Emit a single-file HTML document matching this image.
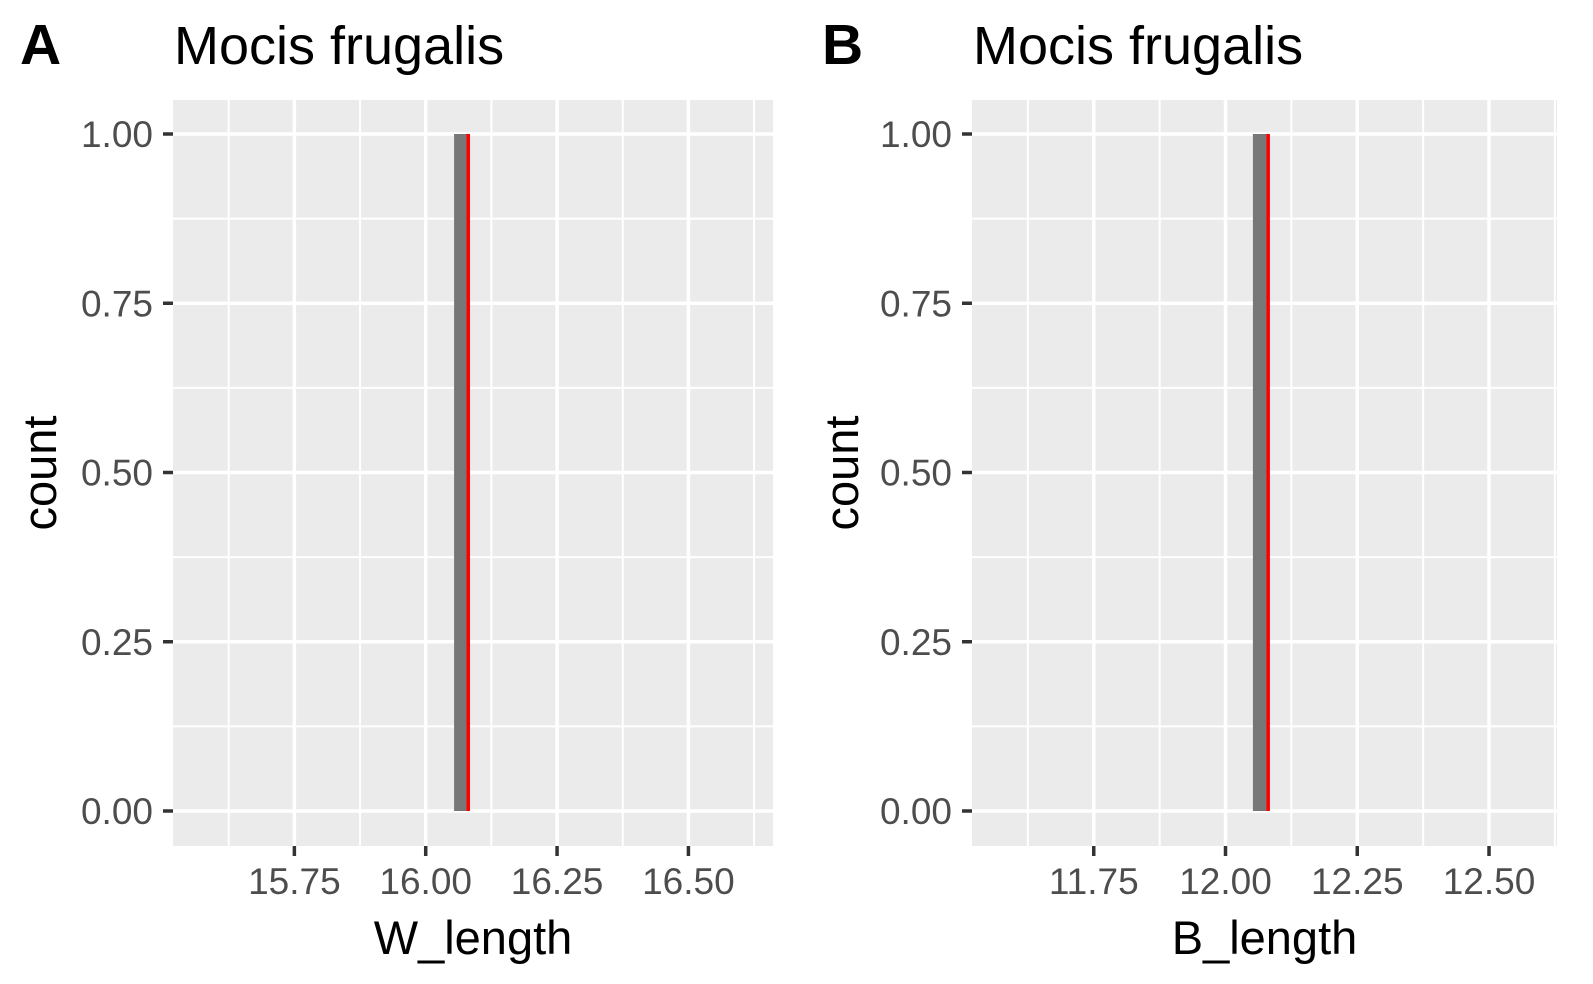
<!DOCTYPE html>
<html><head><meta charset="utf-8"><style>
html,body{margin:0;padding:0;background:#fff}
svg{display:block;font-family:"Liberation Sans",Arial,sans-serif}
</style></head><body>
<svg id="chart" width="1593" height="984" viewBox="0 0 1593 984"></svg>
<script>
const panelLabels = ["A", "B"];
const panelTitles = ["Mocis frugalis", "Mocis frugalis"];
const xTitles = ["W_length", "B_length"];
const xDomains = [[15.519, 16.661], [11.519, 12.629]];
const xTicks = [[15.75, 16.00, 16.25, 16.50], [11.75, 12.00, 12.25, 12.50]];
const xTickLabels = [["15.75", "16.00", "16.25", "16.50"], ["11.75", "12.00", "12.25", "12.50"]];
const yTicks = [0, 0.25, 0.5, 0.75, 1.0];
const yTickLabels = ["0.00", "0.25", "0.50", "0.75", "1.00"];
const binStarts = [16.054, 12.052];
const binEnds = [16.081, 12.081];
const binCounts = [1, 1];
const meanValues = [16.081, 12.081];

const NS = "http://www.w3.org/2000/svg";
const svg = document.getElementById("chart");
function el(tag, attrs, parent) {
  const e = document.createElementNS(NS, tag);
  for (const k in attrs) e.setAttribute(k, attrs[k]);
  (parent || svg).appendChild(e);
  return e;
}
const panels = [{left:173, right:773, tagX:20, ytX:56}, {left:972, right:1557, tagX:822, ytX:858}];
const plotTop = 100, plotBottom = 846;
const yPix0 = 811, yPix1 = 134;
function yScale(v){ return yPix0 + (yPix1 - yPix0) * v; }

panels.forEach((p, i) => {
  const g = el("g", {});
  
  
  const d = xDomains[i];
  const xScale = v => p.left + (v - d[0]) / (d[1] - d[0]) * (p.right - p.left);

  const tag = el("text", {x: p.tagX, y: 64, "font-size": 57, "font-weight": "bold", fill: "#000"}, g);
  tag.textContent = panelLabels[i];
  
  
  const t = el("text", {x: p.left + 1, y: 64, "font-size": 54, fill: "#000"}, g);
  t.textContent = panelTitles[i];
  
  

  const bg = el("rect", {x: p.left, y: plotTop, width: p.right - p.left, height: plotBottom - plotTop, fill: "#EBEBEB"}, g);
  
  

  const step = xTicks[i][1] - xTicks[i][0];
  for (let v = xTicks[i][0] - step / 2; v < d[1]; v += step) {
    if (v <= d[0]) continue;
    const x = xScale(v);
    const l = el("line", {x1: x, x2: x, y1: plotTop, y2: plotBottom, stroke: "#fff", "stroke-width": 2}, g);
    
    
  }
  for (let k = 0; k < yTicks.length - 1; k++) {
    const y = yScale((yTicks[k] + yTicks[k + 1]) / 2);
    const l = el("line", {x1: p.left, x2: p.right, y1: y, y2: y, stroke: "#fff", "stroke-width": 2}, g);
    
    
  }
  xTicks[i].forEach((v, k) => {
    const x = xScale(v);
    const l = el("line", {x1: x, x2: x, y1: plotTop, y2: plotBottom, stroke: "#fff", "stroke-width": 3.5}, g);
    
    
    const tk = el("line", {x1: x, x2: x, y1: plotBottom, y2: plotBottom + 10, stroke: "#333", "stroke-width": 3.5}, g);
    
    
    const tl = el("text", {x: x, y: 894, "font-size": 37, fill: "#4D4D4D", "text-anchor": "middle"}, g);
    tl.textContent = xTickLabels[i][k];
    
    
  });
  yTicks.forEach((v, k) => {
    const y = yScale(v);
    const l = el("line", {x1: p.left, x2: p.right, y1: y, y2: y, stroke: "#fff", "stroke-width": 3.5}, g);
    
    
    const tk = el("line", {x1: p.left - 10, x2: p.left, y1: y, y2: y, stroke: "#333", "stroke-width": 3.5}, g);
    
    
    const tl = el("text", {x: p.left - 20, y: y + 13, "font-size": 37, fill: "#4D4D4D", "text-anchor": "end"}, g);
    tl.textContent = yTickLabels[k];
    
    
  });

  const x0 = xScale(binStarts[i]), x1 = xScale(binEnds[i]);
  const bar = el("rect", {x: x0, y: yScale(binCounts[i]), width: x1 - x0, height: yScale(0) - yScale(binCounts[i]), fill: "#777777"}, g);
  
  
  const xm = xScale(meanValues[i]);
  const ml = el("line", {x1: xm, x2: xm, y1: yScale(1), y2: yScale(0), stroke: "#FF0000", "stroke-width": 3.5}, g);
  
  

  const xt = el("text", {x: (p.left + p.right) / 2, y: 954, "font-size": 47, fill: "#000", "text-anchor": "middle"}, g);
  xt.textContent = xTitles[i];
  
  
  const yt = el("text", {x: 0, y: 0, "font-size": 47, fill: "#000", "text-anchor": "middle", transform: "translate(" + p.ytX + "," + ((plotTop + plotBottom) / 2) + ") rotate(-90)"}, g);
  yt.textContent = "count";
  
  
});
</script>
</body></html>
